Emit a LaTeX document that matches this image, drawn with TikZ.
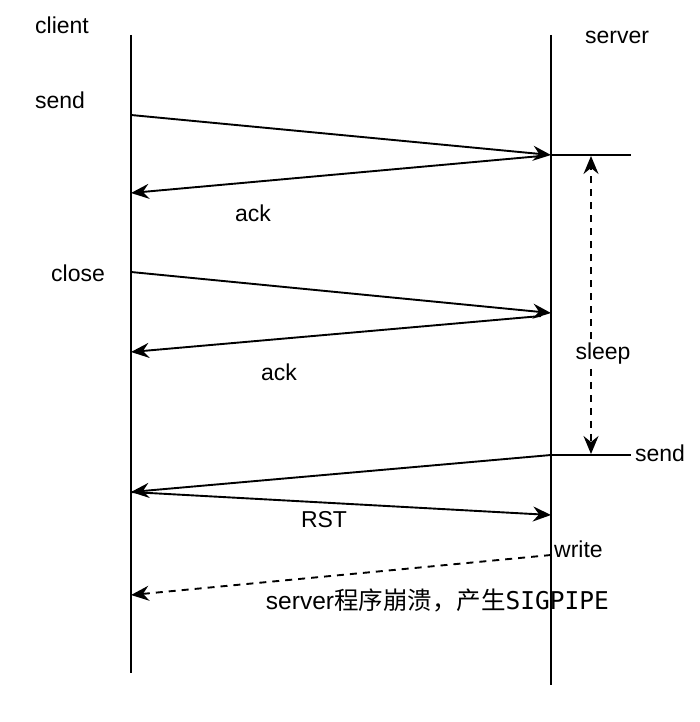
\documentclass[tikz,border=0pt]{standalone}
\usepackage{fontspec}
\setmainfont{Liberation Sans}
\newfontfamily\cjk{Noto Sans CJK SC}
\newfontfamily\monof{DejaVu Sans Mono}
\usetikzlibrary{arrows.meta}
\begin{document}
\begin{tikzpicture}[x=1pt,y=-1pt,
  lbl/.style={inner sep=0pt,font=\fontsize{23}{26}\selectfont},
  life/.style={line width=2pt},
  msg/.style={line width=1.9pt,-{Stealth[length=18pt,width=15pt,inset=6pt]}},
  dmsg/.style={msg,dash pattern=on 7pt off 6pt}]
\useasboundingbox (0,0) rectangle (700,722);
% lifelines
\coordinate (ct) at (131,35); \coordinate (cb) at (131,673);
\coordinate (st) at (551,35); \coordinate (sb) at (551,685);
\draw[life] (ct) -- (cb);
\draw[life] (st) -- (sb);
% labels
\node[lbl] (client) at (62,25) {client};
\node[lbl] (server) at (617,37) {server};
\node[lbl] (send1) at (60,100) {send};
\node[lbl] (close) at (78,273) {close};
% points
\coordinate (c1) at (131,115); \coordinate (s1) at (551,155);
\coordinate (s2) at (541,156); \coordinate (c2) at (131,193);
\coordinate (c3) at (131,272); \coordinate (s3) at (551,313);
\coordinate (s4) at (541,316); \coordinate (c4) at (131,352);
\coordinate (s5) at (551,455); \coordinate (c5) at (131,492);
\coordinate (c6) at (131,492); \coordinate (s6) at (551,515);
\coordinate (s7) at (551,555); \coordinate (c7) at (131,595);
\draw[msg] (c1) -- (s1);
\draw[msg] (s2) -- (c2);
\draw[msg] (c3) -- (s3);
\draw[msg] (s4) -- (c4);
\draw[msg] (s5) -- (c5);
\draw[msg] (c6) -- (s6);
\draw[dmsg] (s7) -- (c7);
\node[lbl] (ack1) at (253,213) {ack};
\node[lbl] (ack2) at (279,372) {ack};
\node[lbl] (rst) at (324,520) {RST};
% server side
\coordinate (h1e) at (631,155); \coordinate (h2e) at (631,455);
\draw[life] (s1) -- (h1e);
\draw[life] (s5) -- (h2e);
\node[lbl,fill=white,inner sep=4pt] (sleep) at (603,354) {sleep};
\coordinate (a1) at (591,156); \coordinate (a2) at (591,454);
\draw[dmsg] (sleep.north -| a1) -- (a1);
\draw[dmsg] (sleep.south -| a2) -- (a2);
\node[lbl] (send2) at (660,453) {send};
\node[lbl,anchor=west] (write) at (554,549) {write};
\node[lbl,anchor=east,font=\fontsize{24.5}{28}\selectfont] (crash) at (609,600) {server{\cjk 程序崩溃，产生}{\monof SIGPIPE}};
\end{tikzpicture}
\end{document}
